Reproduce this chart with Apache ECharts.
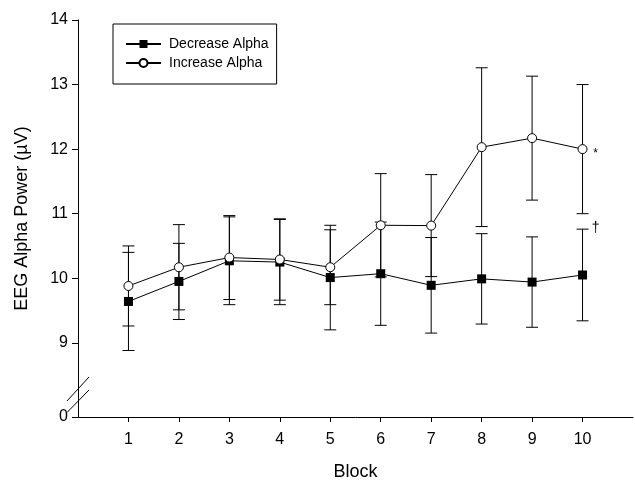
<!DOCTYPE html>
<html>
<head>
<meta charset="utf-8">
<script src="https://cdn.jsdelivr.net/npm/echarts@6/dist/echarts.min.js"></script>
<style>
  html, body { margin: 0; padding: 0; background: #fff; }
  #chart { width: 635px; height: 486px; }
</style>
</head>
<body>
<div id="chart"></div>
<script>
const blocks = [1, 2, 3, 4, 5, 6, 7, 8, 9, 10]
const decreaseMean = [9.64, 9.95, 10.27, 10.25, 10.01, 10.07, 9.89, 9.99, 9.94, 10.05]
const decreaseErr = [0.76, 0.59, 0.68, 0.66, 0.81, 0.80, 0.74, 0.70, 0.70, 0.71]
const increaseMean = [9.88, 10.17, 10.32, 10.29, 10.17, 10.82, 10.815, 12.03, 12.17, 12.0]
const increaseErr = [0.62, 0.66, 0.65, 0.63, 0.58, 0.80, 0.79, 1.23, 0.96, 1.0]
const yTicks = [9, 10, 11, 12, 13, 14]
const yBreakBase = 7.85 // where "0" sits below the axis break
const notes = [
  { x: 10, y: 11.97, text: '*', size: 12 },
  { x: 10, y: 10.82, text: '†', size: 14 },
]

const FONT = '"Liberation Sans", Arial, sans-serif'
const chart = echarts.init(document.getElementById('chart'))

function errData(mean, err) {
  return blocks.map((b, i) => [b, mean[i] - err[i], mean[i] + err[i]])
}

function errorBars(params, api) {
  const x = api.value(0)
  const lo = api.coord([x, api.value(1)])
  const hi = api.coord([x, api.value(2)])
  const cap = 6
  const style = { stroke: '#000', lineWidth: 1 }
  return {
    type: 'group',
    children: [
      { type: 'line', shape: { x1: lo[0], y1: lo[1], x2: hi[0], y2: hi[1] }, style },
      { type: 'line', shape: { x1: lo[0] - cap, y1: lo[1], x2: lo[0] + cap, y2: lo[1] }, style },
      { type: 'line', shape: { x1: hi[0] - cap, y1: hi[1], x2: hi[0] + cap, y2: hi[1] }, style },
    ],
  }
}

chart.setOption({
  animation: false,
  textStyle: { fontFamily: FONT },
  grid: { left: 78, right: 2, top: 20, bottom: 67 },
  legend: {
    orient: 'vertical',
    left: 113, top: 24,
    padding: [13, 8, 14, 12],
    itemGap: 5,
    itemWidth: 35, itemHeight: 10,
    borderColor: '#000', borderWidth: 1,
    textStyle: { fontSize: 14, color: '#000', fontFamily: FONT, padding: [0, 0, 0, 3] },
    data: ['Decrease Alpha', 'Increase Alpha'],
  },
  xAxis: {
    type: 'value', min: 0, max: 11,
    name: 'Block', nameLocation: 'middle', nameGap: 46,
    nameTextStyle: { fontSize: 18, color: '#000', fontFamily: FONT },
    splitLine: { show: false },
    axisLine: { lineStyle: { color: '#000', width: 1 } },
    axisTick: { customValues: blocks, length: 5, lineStyle: { color: '#000' } },
    axisLabel: { customValues: blocks, fontSize: 16, color: '#000', margin: 15, fontFamily: FONT },
  },
  yAxis: {
    type: 'value', min: yBreakBase, max: 14,
    name: 'EEG Alpha Power (µV)', nameLocation: 'middle', nameGap: 47,
    nameTextStyle: { fontSize: 18, color: '#000', fontFamily: FONT },
    splitLine: { show: false },
    axisLine: { show: true, lineStyle: { color: '#000', width: 1 } },
    axisTick: { show: true, customValues: [yBreakBase].concat(yTicks), length: 6, lineStyle: { color: '#000' } },
    axisLabel: {
      customValues: [yBreakBase].concat(yTicks), fontSize: 16, color: '#000', margin: 10, fontFamily: FONT,
      verticalAlign: 'middle', verticalAlignMinLabel: 'middle', verticalAlignMaxLabel: 'middle',
      formatter: (v) => (v < 8.5 ? '0' : String(v)),
    },
  },
  graphic: [
    { type: 'line', shape: { x1: 67, y1: 401, x2: 89, y2: 377 }, style: { stroke: '#000', lineWidth: 1 } },
    { type: 'line', shape: { x1: 67, y1: 412.5, x2: 89, y2: 390 }, style: { stroke: '#000', lineWidth: 1 } },
  ],
  series: [
    { type: 'custom', name: 'decErr', renderItem: errorBars, data: errData(decreaseMean, decreaseErr), z: 1 },
    { type: 'custom', name: 'incErr', renderItem: errorBars, data: errData(increaseMean, increaseErr), z: 1 },
    {
      type: 'line', name: 'Decrease Alpha', z: 3,
      data: blocks.map((b, i) => [b, decreaseMean[i]]),
      symbol: 'rect', symbolSize: 9,
      lineStyle: { color: '#000', width: 1 },
      itemStyle: { color: '#000', borderColor: '#000', borderWidth: 0 },
    },
    {
      type: 'line', name: 'Increase Alpha', z: 4,
      data: blocks.map((b, i) => [b, increaseMean[i]]),
      symbol: 'circle', symbolSize: 9, showAllSymbol: true,
      lineStyle: { color: '#000', width: 1 },
      itemStyle: { color: '#fff', borderColor: '#000', borderWidth: 1 },
      markPoint: {
        symbol: 'circle', symbolSize: 0,
        label: { show: true, color: '#000', fontFamily: FONT, offset: [13, 3], formatter: (p) => p.name },
        data: notes.map((n) => ({ name: n.text, coord: [n.x, n.y], label: { fontSize: n.size } })),
      },
    },
  ],
})
</script>
</body>
</html>
